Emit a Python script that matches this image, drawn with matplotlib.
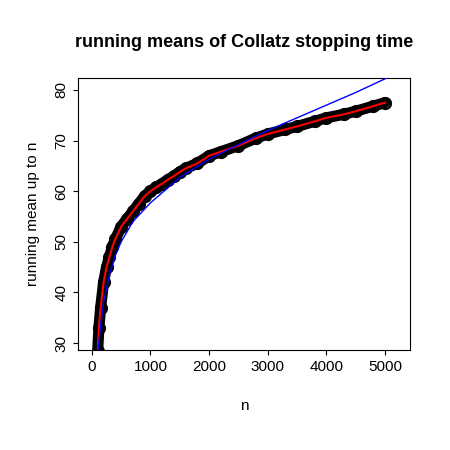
import matplotlib
matplotlib.use("Agg")
import matplotlib.pyplot as plt
plt.rcParams['font.family'] = ['Liberation Sans', 'DejaVu Sans']

n_vals = [100, 120, 150, 200, 250, 300, 350, 400, 500, 600, 700, 800, 900, 1000, 1100, 1200, 1300, 1400, 1500,
          1600, 1800, 2000, 2200, 2500, 2800, 3000, 3300, 3500, 3800, 4000, 4300, 4500, 4800, 5000]
means = [28.5, 33, 37, 42, 45, 47, 49, 50.5, 53, 54.5, 56, 57.5, 59, 60, 60.8, 61.5, 62.3, 63, 63.8,
         64.5, 65.5, 67, 67.8, 69, 70.5, 71.3, 72.2, 72.8, 73.8, 74.5, 75.2, 75.8, 76.8, 77.5]
blue_n = [100, 150, 200, 300, 400, 500, 700, 1000, 1500, 2000, 2500, 3000, 3500, 4000, 4500, 5000, 5400]
blue_y = [28, 33.5, 38, 43.5, 47.3, 50, 54, 57.7, 62.7, 66.3, 69.2, 72, 74.5, 77, 79.5, 82.2, 84.3]

fig = plt.figure(figsize=(4.5, 4.5), dpi=100)
ax = fig.add_axes([0.173, 0.222, 0.738, 0.605])
ax.plot(n_vals, means, color="black", lw=8, solid_capstyle="round", zorder=2)
ax.plot(n_vals, means, "o", ms=8, mfc="none", mec="black", mew=1.5, zorder=3)
ax.plot(n_vals, means, color="red", lw=1.5, zorder=4)
ax.plot(blue_n, blue_y, color="blue", lw=1, zorder=5)
ax.set_xlim(-239, 5427)
ax.set_ylim(28.6, 82.4)
ax.set_xticks([0, 1000, 2000, 3000, 4000, 5000])
ax.set_yticks([30, 40, 50, 60, 70, 80])
ax.tick_params(labelsize=11)
for lab in ax.get_yticklabels():
    lab.set_rotation(90); lab.set_va("center")
ax.set_xlabel("n", fontsize=11, labelpad=18)
ax.set_ylabel("running mean up to n", fontsize=11, labelpad=10)
ax.set_title("running means of Collatz stopping time", fontsize=13, fontweight="bold", pad=22)
fig.savefig("out.png")
